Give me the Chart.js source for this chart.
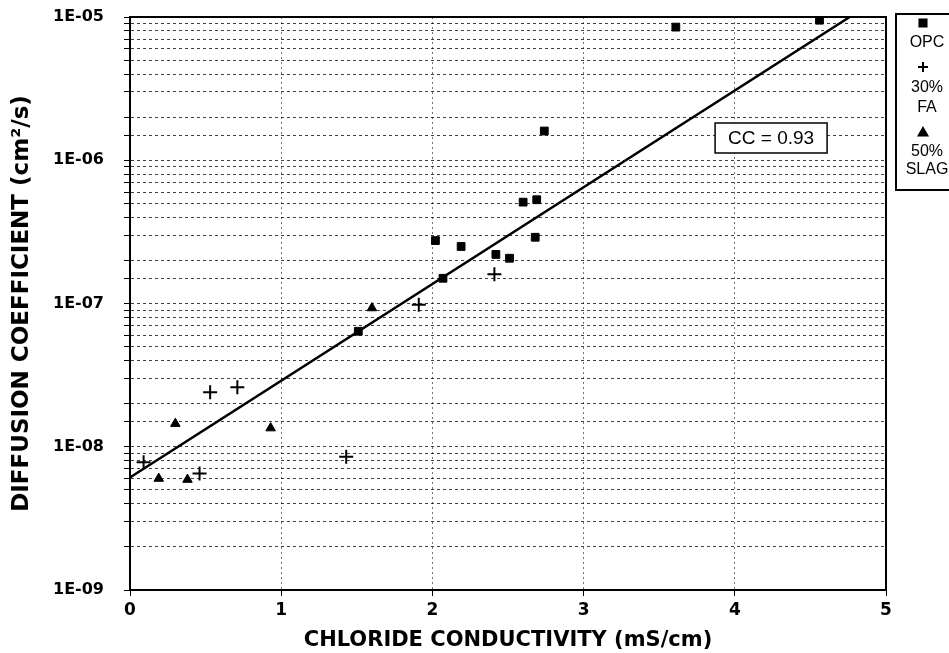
<!DOCTYPE html>
<html>
<head>
<meta charset="utf-8">
<script src="https://cdn.jsdelivr.net/npm/chart.js@4"></script>
<style>
  html, body { margin: 0; padding: 0; background: #fff; }
  #wrap { width: 949px; height: 653px; }
</style>
</head>
<body>
<div id="wrap"><canvas id="chart" width="949" height="653"></canvas></div>
<script>
// Valores (condutividade em mS/cm, difusão em cm2/s)
const opcX = [1.51, 2.02, 2.07, 2.19, 2.42, 2.51, 2.68, 2.60, 2.69, 2.74, 3.61, 4.56];
const opcY = [6.4e-8, 2.75e-7, 1.5e-7, 2.5e-7, 2.2e-7, 2.07e-7, 2.9e-7, 5.1e-7, 5.3e-7, 1.6e-6, 8.5e-6, 9.5e-6];

const faX = [0.09, 0.46, 0.53, 0.71, 1.43, 1.91, 2.41];
const faY = [7.8e-9, 6.5e-9, 2.4e-8, 2.6e-8, 8.5e-9, 9.8e-8, 1.6e-7];

const slagX = [0.19, 0.30, 0.38, 0.93, 1.60];
const slagY = [6.0e-9, 1.45e-8, 5.9e-9, 1.35e-8, 9.3e-8];

// reta de regressão (dois extremos)
const fitX = [0, 4.76];
const fitY = [6.1e-9, 1.0e-5];

const xTicks = [0, 1, 2, 3, 4, 5];
const legendLabels = [["OPC"], ["30%", "FA"], ["50%", "SLAG"]];
const ccLabel = "CC = 0.93";

function pts(xs, ys) {
    return xs.map((x, i) => ({ x: x, y: ys[i] }));
}

// Moldura, caixa do CC e legenda à direita
const extrasPlugin = {
    id: "extras",
    afterDraw(chart) {
        const ctx = chart.ctx;
        const a = chart.chartArea;
        ctx.save();
        ctx.strokeStyle = "#000";
        ctx.lineWidth = 2;
        ctx.strokeRect(a.left, a.top, a.right - a.left, a.bottom - a.top);

        // caixa CC
        const xs = chart.scales.x, ys = chart.scales.y;
        const cx = xs.getPixelForValue(4.24);
        const cy = ys.getPixelForValue(1.43e-6);
        ctx.fillStyle = "#fff";
        ctx.fillRect(cx - 56, cy - 15, 112, 30);
        ctx.lineWidth = 1.5;
        ctx.strokeRect(cx - 56, cy - 15, 112, 30);
        ctx.fillStyle = "#000";
        ctx.font = "19px Arial, 'Liberation Sans'";
        ctx.textAlign = "center";
        ctx.textBaseline = "middle";
        ctx.fillText(ccLabel, cx, cy + 1);

        // legenda
        const lx = a.right + 10;
        ctx.lineWidth = 2;
        ctx.strokeRect(lx, 14, 80, 176);
        const mx = lx + 27;
        const styles = chart.data.datasets.slice(0, 3);
        const markerY = [23, 67, 133];
        const textY = [[43], [88, 108], [152, 170]];
        ctx.font = "16px Arial, 'Liberation Sans'";
        styles.forEach((ds, i) => {
            Chart.helpers.drawPoint(ctx, {
                pointStyle: ds.pointStyle,
                radius: 5,
                borderWidth: 1.5
            }, mx, markerY[i]);
            ctx.fillStyle = "#000";
            ctx.strokeStyle = "#000";
            legendLabels[i].forEach((t, j) => {
                ctx.fillText(t, mx + 4, textY[i][j]);
            });
        });
        ctx.restore();
    }
};

new Chart(document.getElementById("chart"), {
    type: "scatter",
    data: {
        datasets: [
            {
                label: "OPC",
                data: pts(opcX, opcY),
                pointStyle: "rect",
                pointRadius: 5.5,
                backgroundColor: "#000",
                borderColor: "#000",
                borderWidth: 1
            },
            {
                label: "30% FA",
                data: pts(faX, faY),
                pointStyle: "cross",
                pointRadius: 7,
                backgroundColor: "#000",
                borderColor: "#000",
                borderWidth: 2
            },
            {
                label: "50% SLAG",
                data: pts(slagX, slagY),
                pointStyle: "triangle",
                pointRadius: 5.5,
                backgroundColor: "#000",
                borderColor: "#000",
                borderWidth: 1
            },
            {
                label: "fit",
                data: pts(fitX, fitY),
                showLine: true,
                pointRadius: 0,
                borderColor: "#000",
                borderWidth: 2.5
            }
        ]
    },
    options: {
        responsive: false,
        animation: false,
        layout: { padding: { top: 17, right: 63, left: 0, bottom: 0 } },
        plugins: {
            legend: { display: false },
            tooltip: { enabled: false }
        },
        scales: {
            x: {
                type: "linear",
                min: 0,
                max: 5,
                afterBuildTicks: function (scale) {
                    scale.ticks = xTicks.map(v => ({ value: v }));
                },
                afterFit: function (scale) {
                    scale.height = 63;
                    scale.paddingLeft = 0;
                    scale.paddingRight = 0;
                },
                ticks: {
                    color: "#000",
                    font: { family: "'DejaVu Sans'", weight: "bold", size: 17 },
                    padding: 4
                },
                grid: {
                    color: "rgba(0,0,0,0.55)",
                    tickColor: "#000",
                    tickLength: 6,
                    lineWidth: 1
                },
                border: { color: "#000", width: 2, dash: [2, 3] },
                title: {
                    display: true,
                    text: "CHLORIDE CONDUCTIVITY (mS/cm)",
                    color: "#000",
                    font: { family: "'DejaVu Sans'", weight: "bold", size: 21 },
                    padding: { top: 0, bottom: 0 }
                }
            },
            y: {
                type: "logarithmic",
                min: 1e-9,
                max: 1e-5,
                afterFit: function (scale) {
                    scale.width = 130;
                    scale.paddingTop = 0;
                    scale.paddingBottom = 0;
                },
                ticks: {
                    autoSkip: false,
                    color: "#000",
                    font: { family: "'DejaVu Sans'", weight: "bold", size: 16 },
                    padding: 20,
                    callback: function (value) {
                        const e = Math.log10(value);
                        if (Math.abs(e - Math.round(e)) < 1e-6) {
                            return "1E-0" + (-Math.round(e));
                        }
                        return "";
                    }
                },
                grid: {
                    color: "rgba(0,0,0,0.75)",
                    tickColor: "#000",
                    tickLength: 6,
                    lineWidth: 1
                },
                border: { color: "#000", width: 2, dash: [3, 3] },
                title: {
                    display: true,
                    text: "DIFFUSION COEFFICIENT (cm\u00B2/s)",
                    color: "#000",
                    font: { family: "'DejaVu Sans'", weight: "bold", size: 23 },
                    padding: { top: 8, bottom: 0 }
                }
            }
        }
    },
    plugins: [extrasPlugin]
});
</script>
</body>
</html>
